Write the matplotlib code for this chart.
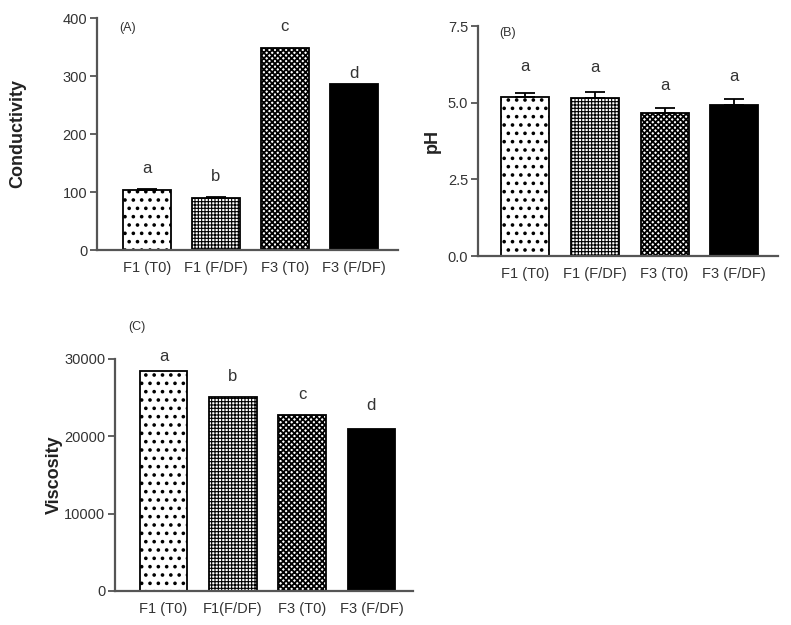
import numpy as np
import matplotlib.pyplot as plt

plt.rcParams['font.family'] = ['Liberation Sans', 'DejaVu Sans']

groups_ab = ['F1 (T0)', 'F1 (F/DF)', 'F3 (T0)', 'F3 (F/DF)']
groups_c = ['F1 (T0)', 'F1(F/DF)', 'F3 (T0)', 'F3 (F/DF)']

conductivity = [104, 90, 348, 286]
conductivity_err = [2, 2, 0, 0]
conductivity_letters = ['a', 'b', 'c', 'd']

ph = [5.2, 5.15, 4.67, 4.93]
ph_err = [0.12, 0.2, 0.14, 0.18]
ph_letters = ['a', 'a', 'a', 'a']

viscosity = [28450, 25100, 22750, 21000]
viscosity_err = [0, 0, 0, 0]
viscosity_letters = ['a', 'b', 'c', 'd']

# fill style per group: hatch pattern, hatch line width, face colour
hatches = ['..', '+++++', 'xxxxxx', None]
hatch_lw = [1.4, 0.8, 1.3, 1.0]
faces = ['white', 'white', 'white', 'black']
txt = '#333333'


def panel(rect, vals, errs, letters, labels, ylim, yticks, yfmt, ylabel, tag, xlim, letter_off, tag_pos, ylabel_x):
    ax = fig.add_axes(rect)
    x = np.arange(len(vals))
    for i in range(len(vals)):
        with plt.rc_context({'hatch.linewidth': hatch_lw[i]}):
            ax.bar(x[i], vals[i], width=0.69, color=faces[i], edgecolor='black',
                   hatch=hatches[i], linewidth=1.3, zorder=2)
        if errs[i] > 0:
            ax.errorbar(x[i], vals[i], yerr=[[0], [errs[i]]], color='black',
                        capsize=7, elinewidth=1.3, capthick=1.3, zorder=3)
        ax.text(x[i], vals[i] + errs[i] + letter_off[i], letters[i], ha='center',
                va='bottom', fontsize=12, color=txt)
    ax.set_xlim(*xlim)
    ax.set_ylim(*ylim)
    ax.set_yticks(yticks)
    ax.set_yticklabels([yfmt.format(t) for t in yticks])
    ax.set_xticks(x)
    ax.set_xticklabels(labels)
    for s in ['top', 'right']:
        ax.spines[s].set_visible(False)
    ax.spines['left'].set_bounds(ylim[0], yticks[-1])
    ax.spines['left'].set_color('#555555')
    ax.spines['bottom'].set_color('#555555')
    ax.spines['left'].set_linewidth(1.6)
    ax.spines['bottom'].set_linewidth(1.6)
    ax.tick_params(axis='y', length=5, width=1.3, color='#555555', labelsize=10.5, labelcolor=txt, pad=2)
    ax.tick_params(axis='x', length=0, labelsize=10.5, labelcolor=txt, pad=8)
    ax.set_ylabel(ylabel, fontsize=13, fontweight='bold', color='#222222')
    ax.yaxis.set_label_coords(ylabel_x, 0.5)
    ax.text(tag_pos[0], tag_pos[1], tag, transform=ax.transAxes, fontsize=9, color=txt,
            ha='left', va='center')
    return ax


fig = plt.figure(figsize=(7.91, 6.25), dpi=100)
W, H = 791, 625

def rect(l, r, t, b):
    return [l / W, 1 - b / H, (r - l) / W, (b - t) / H]

panel(rect(97, 398, 18, 250), conductivity, conductivity_err, conductivity_letters, groups_ab,
      (0, 400), [0, 100, 200, 300, 400], '{:.0f}', 'Conductivity', '(A)',
      (-0.72, 3.64), [22, 22, 24, 6], (0.075, 0.955), -0.236)

panel(rect(478, 778, 26, 256), ph, ph_err, ph_letters, groups_ab,
      (0, 7.5), [0, 2.5, 5.0, 7.5], '{:.1f}', 'pH', '(B)',
      (-0.68, 3.63), [0.6, 0.55, 0.5, 0.5], (0.07, 0.97), -0.123)

panel(rect(115, 413, 359, 591), viscosity, viscosity_err, viscosity_letters, groups_c,
      (0, 30000), [0, 10000, 20000, 30000], '{:.0f}', 'Viscosity', '(C)',
      (-0.70, 3.6), [950, 1700, 1750, 2000], (0.044, 1.14), -0.175)

fig.savefig('out.png', dpi=100)
